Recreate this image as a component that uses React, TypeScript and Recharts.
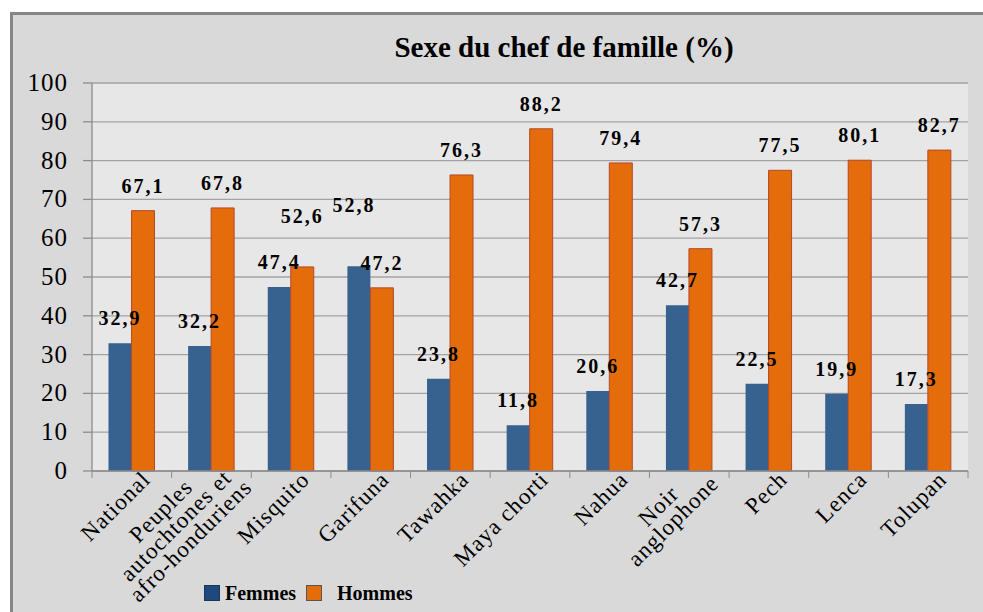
import React from 'react';
import { BarChart, Bar, XAxis, YAxis, CartesianGrid, LabelList } from 'recharts';

// ---------- data ----------
const title = 'Sexe du chef de famille (%)';
const categories = [
  'National',
  'Peuples\nautochtones et\nafro-honduriens',
  'Misquito',
  'Garifuna',
  'Tawahka',
  'Maya chorti',
  'Nahua',
  'Noir\nanglophone',
  'Pech',
  'Lenca',
  'Tolupan',
];
const femmes = [32.9, 32.2, 47.4, 52.8, 23.8, 11.8, 20.6, 42.7, 22.5, 19.9, 17.3];
const hommes = [67.1, 67.8, 52.6, 47.2, 76.3, 88.2, 79.4, 57.3, 77.5, 80.1, 82.7];
const yTicks = [0, 10, 20, 30, 40, 50, 60, 70, 80, 90, 100];
const seriesNames = ['Femmes', 'Hommes'];

// ---------- styles ----------
const SERIF: React.CSSProperties = { fontFamily: "'Liberation Serif', 'Times New Roman', serif" };
const BLUE = '#37618f';
const ORANGE = '#e46c0a';
const ORANGE_STROKE = '#b5482a';
const GRID = '#a3a3a3';
const AXIS = '#8c8c8c';
const W = 983;
const H = 612;
const MARGIN = { top: 83, right: 15, bottom: 0, left: 8 };
const YAXIS_W = 84;
const PLOT_W = W - MARGIN.left - MARGIN.right - YAXIS_W;
const BAND = PLOT_W / categories.length;

// manual label nudges (dx, lift) like in the original chart
const LABEL_NUDGE: Record<string, [number, number]> = {
  'Misquito|Hommes': [0, 26],
  'Garifuna|Femmes': [-5, 36],
};

const data = categories.map((c, i) => ({ name: c, Femmes: femmes[i], Hommes: hommes[i] }));

let ctx: CanvasRenderingContext2D | null = null;
function measure(text: string, size: number, weight: string, ls: number) {
  if (!ctx) ctx = document.createElement('canvas').getContext('2d');
  if (!ctx) return text.length * size * 0.45;
  ctx.font = `${weight} ${size}px 'Liberation Serif'`;
  return ctx.measureText(text).width + ls * text.length;
}

const X_FS = 23;
const X_LS = 1;
const XTick = (props: any) => {
  const { x, y, payload, index } = props;
  const lines = String(payload.value).split('\n');
  const maxW = Math.max(...lines.map((l) => measure(l, X_FS, 'normal', X_LS)));
  const n = lines.length;
  const uRight = 7 + 5 * (n - 1);
  const vMid = 13;
  const lh = 21;
  const bx = x - BAND / 2;
  return (
    <g>
      <line x1={bx} y1={y} x2={bx} y2={y + 7} stroke={AXIS} strokeWidth={1} />
      {index === categories.length - 1 && (
        <line x1={x + BAND / 2} y1={y} x2={x + BAND / 2} y2={y + 7} stroke={AXIS} strokeWidth={1} />
      )}
      <g transform={`translate(${x},${y}) rotate(-45)`}>
        {lines.map((l, i) => (
          <text
            key={i}
            x={uRight - maxW / 2}
            y={vMid + (i - (n - 1) / 2) * lh + 8}
            textAnchor="middle"
            style={SERIF}
            fontSize={X_FS}
            letterSpacing={X_LS}
            fill="#000"
          >
            {l}
          </text>
        ))}
      </g>
    </g>
  );
};

const makeLabel = (series: string) => (props: any) => {
  const { x, y, width, value, index } = props;
  const key = `${String(categories[index]).split('\n')[0]}|${series}`;
  const nudge = LABEL_NUDGE[key] || [0, 0];
  return (
    <text
      x={Number(x) + Number(width) / 2 + nudge[0]}
      y={Number(y) - 18 - nudge[1]}
      textAnchor="middle"
      style={{ ...SERIF, fontWeight: 'bold' }}
      fontSize={20}
      letterSpacing={2}
      fill="#000"
    >
      {String(value).replace('.', ',')}
    </text>
  );
};

const YTick = (props: any) => {
  const { x, y, payload } = props;
  return (
    <text x={x} y={y} dy={8} textAnchor="end" style={SERIF} fontSize={25} letterSpacing={1} fill="#000">
      {payload.value}
    </text>
  );
};

export default function App() {
  return (
    <div style={{ position: 'absolute', left: 0, top: 0, width: W, height: H, background: '#fff', overflow: 'hidden' }}>
      <div
        style={{
          position: 'absolute',
          left: 10,
          top: 12,
          width: W + 20,
          height: H + 20,
          background: '#d9d9d9',
          borderTop: '3px solid #878787',
          borderLeft: '3px solid #878787',
        }}
      />
      <div style={{ position: 'absolute', left: 0, top: 0 }}>
        <BarChart width={W} height={H} data={data} margin={MARGIN} barGap={0} barCategoryGap="20.7%" style={{ overflow: 'visible' }}>
          <CartesianGrid vertical={false} stroke={GRID} strokeWidth={1.3} fill="#e7e7e7" />
          <XAxis
            dataKey="name"
            height={141}
            interval={0}
            tickSize={0}
            tickMargin={0}
            tickLine={false}
            axisLine={{ stroke: AXIS, strokeWidth: 1.3 }}
            tick={<XTick />}
          />
          <YAxis
            width={YAXIS_W}
            domain={[0, 100]}
            ticks={yTicks}
            interval={0}
            tickSize={9}
            tickMargin={15}
            axisLine={{ stroke: AXIS, strokeWidth: 1.3 }}
            tickLine={{ stroke: AXIS, strokeWidth: 1.3 }}
            tick={<YTick />}
          />
          <Bar dataKey="Femmes" fill={BLUE} isAnimationActive={false}>
            <LabelList dataKey="Femmes" content={makeLabel('Femmes')} />
          </Bar>
          <Bar dataKey="Hommes" fill={ORANGE} stroke={ORANGE_STROKE} strokeWidth={1} isAnimationActive={false}>
            <LabelList dataKey="Hommes" content={makeLabel('Hommes')} />
          </Bar>
        </BarChart>
      </div>
      <svg style={{ position: 'absolute', left: 0, top: 0 }} width={W} height={H}>
        <text x={564} y={57} textAnchor="middle" style={{ ...SERIF, fontWeight: 'bold' }} fontSize={29} fill="#000">
          {title}
        </text>
        <rect x={204.5} y={585.5} width={15} height={15} fill="#1f497d" stroke="#17365d" strokeWidth={1} />
        <text x={225} y={600} style={{ ...SERIF, fontWeight: 'bold' }} fontSize={20} fill="#000">
          {seriesNames[0]}
        </text>
        <rect x={306.5} y={585.5} width={15} height={15} fill={ORANGE} stroke="#555" strokeWidth={1} />
        <text x={337} y={600} style={{ ...SERIF, fontWeight: 'bold' }} fontSize={20} fill="#000">
          {seriesNames[1]}
        </text>
      </svg>
    </div>
  );
}
